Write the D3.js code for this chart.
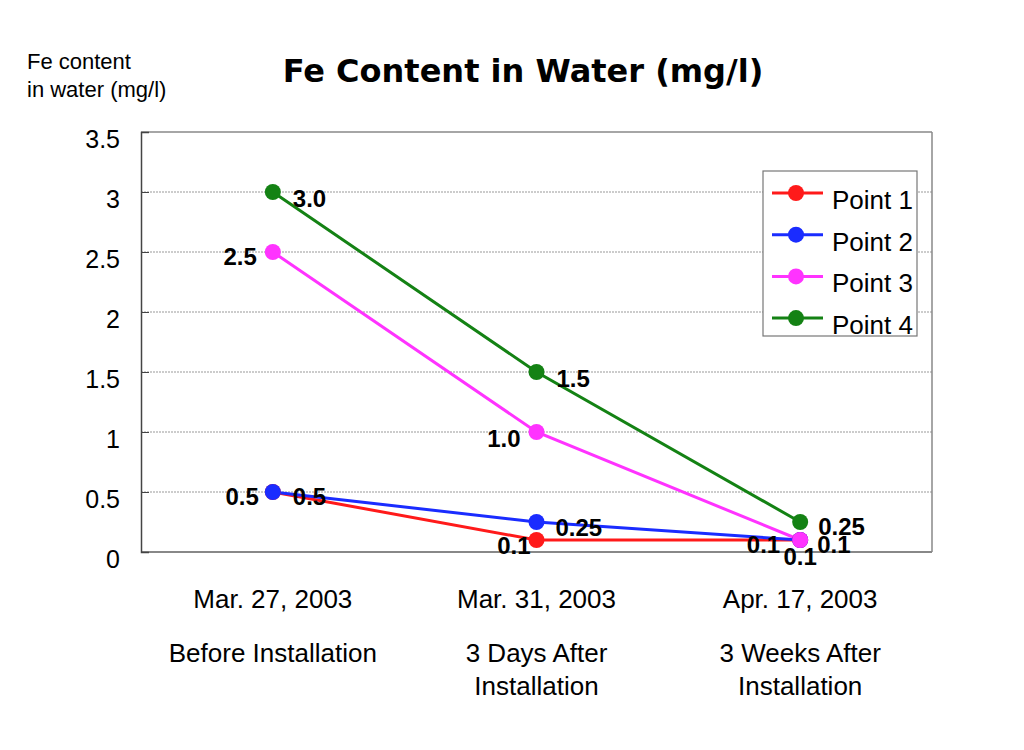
<!DOCTYPE html>
<html><head><meta charset="utf-8">
<script src="https://cdn.jsdelivr.net/npm/d3@7"></script>
<style>body{margin:0;background:#fff;}text{font-family:"Liberation Sans",Arial,sans-serif;}</style>
</head><body>
<svg id="c" width="1024" height="750"></svg>
<script>
const dates = ["Mar. 27, 2003", "Mar. 31, 2003", "Apr. 17, 2003"];
const phases = [["Before Installation"], ["3 Days After", "Installation"], ["3 Weeks After", "Installation"]];
const seriesNames = ["Point 1", "Point 2", "Point 3", "Point 4"];
const seriesColors = ["#ff1a1a", "#1a2cff", "#ff33ff", "#148214"];
const point1 = [0.5, 0.1, 0.1];
const point2 = [0.5, 0.25, 0.1];
const point3 = [2.5, 1.0, 0.1];
const point4 = [3.0, 1.5, 0.25];
const labelText = [["0.5","0.1","0.1"],["0.5","0.25","0.1"],["2.5","1.0","0.1"],["3.0","1.5","0.25"]];
// label placement: [dx, dy, anchor]
const labelPos = [
  [[-14, 13, "end"], [-6, 14, "end"], [-20, 13, "end"]],
  [[20, 13, "start"], [19, 14, "start"], [17, 13, "start"]],
  [[-16, 13, "end"], [-16, 15, "end"], [0, 25, "middle"]],
  [[20, 15, "start"], [20, 15, "start"], [18, 13, "start"]]
];
const yTicks = [0, 0.5, 1, 1.5, 2, 2.5, 3, 3.5];
const data = [point1, point2, point3, point4];

const svg = d3.select("#c");
const L = 141, R = 932, T = 132, B = 552;
const x = d3.scaleBand().domain(dates).range([L, R]);
const y = d3.scaleLinear().domain([0, 3.5]).range([B, T]);

// gridlines
svg.append("g").selectAll("line").data(yTicks.filter(d => d > 0 && d < 3.5)).join("line")
  .attr("x1", L).attr("x2", R).attr("y1", d => y(d)).attr("y2", d => y(d))
  .attr("stroke", "#999").attr("stroke-width", 1).attr("stroke-dasharray", "2,1");

// frame
svg.append("line").attr("x1", L).attr("x2", R).attr("y1", T).attr("y2", T).attr("stroke", "#888").attr("stroke-width", 1.5);
svg.append("line").attr("x1", R).attr("x2", R).attr("y1", T).attr("y2", B).attr("stroke", "#888").attr("stroke-width", 1.5);
svg.append("line").attr("x1", L).attr("x2", R).attr("y1", B).attr("y2", B).attr("stroke", "#888").attr("stroke-width", 2);

// y axis
const yAxis = d3.axisLeft(y).tickValues(yTicks).tickSize(-8).tickPadding(21).tickFormat(d => String(d));
const gy = svg.append("g").attr("transform", `translate(${L},0)`).call(yAxis);
gy.select(".domain").attr("stroke", "#444").attr("stroke-width", 1.5);
gy.selectAll(".tick line").attr("stroke", "#444");
gy.selectAll(".tick text").attr("font-size", 25).attr("fill", "#000").attr("dy", "0.62em")
  .style("font-family", "'Liberation Sans',Arial,sans-serif");

// x labels
const xg = svg.append("g");
dates.forEach((d, i) => {
  const cx = x(d) + x.bandwidth() / 2;
  xg.append("text").attr("x", cx).attr("y", 608).attr("text-anchor", "middle").attr("font-size", 26).text(d);
  phases[i].forEach((p, j) => {
    xg.append("text").attr("x", cx).attr("y", 662 + j * 33).attr("text-anchor", "middle").attr("font-size", 26).text(p);
  });
});

// lines
const line = d3.line().x((d, i) => x(dates[i]) + x.bandwidth() / 2).y(d => y(d));
data.forEach((s, k) => {
  svg.append("path").datum(s).attr("d", line).attr("fill", "none")
    .attr("stroke", seriesColors[k]).attr("stroke-width", 3);
});
data.forEach((s, k) => {
  svg.append("g").selectAll("circle").data(s).join("circle")
    .attr("cx", (d, i) => x(dates[i]) + x.bandwidth() / 2).attr("cy", d => y(d)).attr("r", 8)
    .attr("fill", seriesColors[k]);
});
// value labels
data.forEach((s, k) => {
  svg.append("g").selectAll("text").data(s).join("text")
    .attr("x", (d, i) => x(dates[i]) + x.bandwidth() / 2 + labelPos[k][i][0])
    .attr("y", (d, i) => y(d) + labelPos[k][i][1])
    .attr("text-anchor", (d, i) => labelPos[k][i][2])
    .attr("font-size", 24).attr("font-weight", "bold").attr("fill", "#000")
    .text((d, i) => labelText[k][i]);
});

// legend
const lg = svg.append("g");
lg.append("rect").attr("x", 763).attr("y", 171).attr("width", 154).attr("height", 165)
  .attr("fill", "#fff").attr("stroke", "#777").attr("stroke-width", 1.2);
seriesNames.forEach((n, k) => {
  const yy = 193 + k * 41.7;
  lg.append("line").attr("x1", 772).attr("x2", 823).attr("y1", yy).attr("y2", yy)
    .attr("stroke", seriesColors[k]).attr("stroke-width", 3);
  lg.append("circle").attr("cx", 796).attr("cy", yy).attr("r", 8).attr("fill", seriesColors[k]);
  lg.append("text").attr("x", 832).attr("y", yy + 16).attr("font-size", 26).text(n);
});

// titles
svg.append("text").attr("x", 523).attr("y", 82).attr("text-anchor", "middle")
  .attr("font-size", 32).attr("font-weight", 900).style("font-family", "'DejaVu Sans',Arial,sans-serif")
  .text("Fe Content in Water (mg/l)");
svg.append("text").attr("x", 27).attr("y", 69).attr("font-size", 22).text("Fe content");
svg.append("text").attr("x", 27).attr("y", 97).attr("font-size", 22).text("in water (mg/l)");
</script>
</body></html>
